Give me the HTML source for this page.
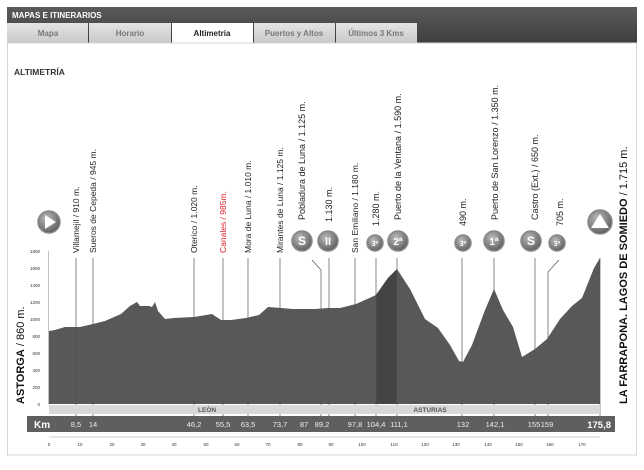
<!DOCTYPE html>
<html><head><meta charset="utf-8"><style>
body{margin:0;background:#fff;width:644px;height:465px;overflow:hidden;font-family:"Liberation Sans",sans-serif}
</style></head><body>
<svg width="644" height="465" xmlns="http://www.w3.org/2000/svg" font-family="Liberation Sans, sans-serif">
<defs>
<linearGradient id="tab" x1="0" y1="0" x2="0" y2="1"><stop offset="0" stop-color="#e4e4e4"/><stop offset="1" stop-color="#c9c9c9"/></linearGradient>
<linearGradient id="hd" x1="0" y1="0" x2="0" y2="1"><stop offset="0" stop-color="#5a5a5a"/><stop offset="1" stop-color="#3e3e3e"/></linearGradient>
<radialGradient id="ic" cx="0.4" cy="0.35" r="0.7"><stop offset="0" stop-color="#bdbdbd"/><stop offset="0.7" stop-color="#777"/><stop offset="1" stop-color="#555"/></radialGradient>
</defs>
<rect x="7" y="7" width="630" height="36" fill="url(#hd)"/>
<text x="12" y="18" font-size="8" font-weight="bold" fill="#fff">MAPAS E ITINERARIOS</text>
<rect x="7" y="23" width="81" height="20" fill="url(#tab)"/>
<rect x="89" y="23" width="82" height="20" fill="url(#tab)"/>
<rect x="172" y="23" width="81" height="20" fill="#fff"/>
<rect x="254" y="23" width="81" height="20" fill="url(#tab)"/>
<rect x="336" y="23" width="81" height="20" fill="url(#tab)"/>
<g font-size="8" text-anchor="middle" fill="#777" font-weight="bold">
<text x="48" y="36">Mapa</text><text x="130" y="36">Horario</text>
<text x="212" y="36" fill="#222">Altimetría</text>
<text x="294" y="36">Puertos y Altos</text><text x="376" y="36">Últimos 3 Kms</text></g>
<rect x="7.5" y="43" width="629" height="412" fill="none" stroke="#d6d6d6"/>
<text x="14" y="75" font-size="8.5" font-weight="bold" fill="#333">ALTIMETRÍA</text>

<g font-size="4.5" fill="#333" text-anchor="end">
<text x="40" y="406">0</text><text x="40" y="389">200</text><text x="40" y="372">400</text><text x="40" y="355">600</text><text x="40" y="338">800</text><text x="40" y="321">1000</text><text x="40" y="304">1200</text><text x="40" y="287">1400</text><text x="40" y="270">1600</text><text x="40" y="253">1800</text></g>
<line x1="48.5" y1="251" x2="48.5" y2="404" stroke="#999" stroke-width="0.6"/>

<path fill="#585858" d="M49,404 L49,331 L55,330 L65,327 L80,327 L93,324 L105,321 L121,314 L130,306 L137,302 L140,306 L149,306 L152,307 L155,302 L158,311 L165,319 L174,318 L194,317 L212,314 L221,320 L231,320 L246,318 L259,315 L268,307 L281,308 L293,309 L315,309 L328,308 L340,308 L356,304 L376,295 L388,278 L397,269 L410,289 L425,319 L438,328 L450,345 L459,361 L463,362 L472,345 L485,310 L494,289 L503,310 L513,327 L522,357 L535,349 L547,339 L560,319 L572,306 L582,298 L594,268 L600,258 L600,404 Z"/>
<path fill="#444" d="M376,295 L388,278 L397,269 L397,404 L376,404 Z"/>

<g stroke="#555" stroke-width="0.7">
<line x1="76" y1="258" x2="76" y2="432"/><line x1="93" y1="258" x2="93" y2="432"/>
<line x1="194" y1="258" x2="194" y2="432"/><line x1="223" y1="258" x2="223" y2="432"/>
<line x1="248" y1="258" x2="248" y2="432"/><line x1="280" y1="258" x2="280" y2="432"/>
<polyline points="312,260 321,270 321,432" fill="none"/><line x1="329" y1="258" x2="329" y2="432"/>
<line x1="355" y1="258" x2="355" y2="432"/><line x1="376" y1="258" x2="376" y2="432"/>
<line x1="397" y1="258" x2="397" y2="432"/><line x1="462" y1="258" x2="462" y2="432"/>
<line x1="494" y1="258" x2="494" y2="432"/><line x1="535" y1="258" x2="535" y2="432"/>
<polyline points="559,260 548,272 548,432" fill="none"/><line x1="600" y1="258" x2="600" y2="432"/>
</g>

<g font-size="8.5" fill="#222">
<text transform="translate(79,253) rotate(-90)">Villamejil / 910 m.</text>
<text transform="translate(96,253) rotate(-90)">Sueros de Cepeda / 945 m.</text>
<text transform="translate(197,253) rotate(-90)">Oterico / 1.020 m.</text>
<text transform="translate(226,253) rotate(-90)" fill="#e0202a">Canales / 985m.</text>
<text transform="translate(251,253) rotate(-90)">Mora de Luna / 1.010 m.</text>
<text transform="translate(283,253) rotate(-90)">Mirantes de Luna / 1.125 m.</text>
<text transform="translate(358,253) rotate(-90)">San Emiliano / 1.180 m.</text>
</g>
<g font-size="9" fill="#222">
<text transform="translate(305,220) rotate(-90)">Pobladura de Luna / 1.125 m.</text>
<text transform="translate(332,222) rotate(-90)">1.130 m.</text>
<text transform="translate(379,226) rotate(-90)">1.280 m.</text>
<text transform="translate(401,220) rotate(-90)">Puerto de la Ventana / 1.590 m.</text>
<text transform="translate(466,226) rotate(-90)">490 m.</text>
<text transform="translate(498,220) rotate(-90)">Puerto de San Lorenzo / 1.350 m.</text>
<text transform="translate(538,220) rotate(-90)">Castro (Ext.) / 650 m.</text>
<text transform="translate(563,226) rotate(-90)">705 m.</text>
</g>
<text transform="translate(24,404) rotate(-90)" font-size="11" fill="#111"><tspan font-weight="bold">ASTORGA</tspan> / 860 m.</text>
<text transform="translate(627,404) rotate(-90)" font-size="11" fill="#111"><tspan font-weight="bold">LA FARRAPONA. LAGOS DE SOMIEDO</tspan> / 1.715 m.</text>

<g stroke="#888" stroke-width="1.5" fill="url(#ic)">
<circle cx="49" cy="222" r="11"/><circle cx="302" cy="241" r="10"/><circle cx="328" cy="241" r="10"/>
<circle cx="375" cy="243" r="8"/><circle cx="398" cy="241" r="10"/><circle cx="463" cy="243" r="8"/>
<circle cx="494" cy="241" r="10"/><circle cx="531" cy="241" r="10"/><circle cx="557" cy="243" r="8"/>
<circle cx="600" cy="222" r="12"/></g>
<polygon points="45,215 45,229 56,222" fill="#fff"/>
<g fill="#fff" font-weight="bold" text-anchor="middle">
<text x="302" y="245" font-size="12">S</text><text x="328" y="245" font-size="11">II</text>
<text x="375" y="246" font-size="7">3ª</text><text x="398" y="245" font-size="10">2ª</text>
<text x="463" y="246" font-size="7">3ª</text><text x="494" y="245" font-size="10">1ª</text>
<text x="531" y="245" font-size="12">S</text><text x="557" y="246" font-size="7">3ª</text></g>
<polygon points="591,228 600,214 609,228" fill="#fff"/>

<rect x="49" y="405" width="551" height="9" fill="#d9d9d9"/>
<g font-size="6.5" font-weight="bold" fill="#555" text-anchor="middle"><text x="207" y="412">LEÓN</text><text x="430" y="412">ASTURIAS</text></g>
<rect x="27" y="416" width="588" height="16" fill="#5f5f5f"/>
<text x="34" y="428" font-size="10" font-weight="bold" fill="#fff">Km</text>
<g font-size="7.5" fill="#eee" text-anchor="middle">
<text x="76" y="427">8,5</text><text x="93" y="427">14</text><text x="194" y="427">46,2</text><text x="223" y="427">55,5</text><text x="248" y="427">63,5</text><text x="280" y="427">73,7</text><text x="304" y="427">87</text><text x="322" y="427">89,2</text><text x="355" y="427">97,8</text><text x="376" y="427">104,4</text><text x="399" y="427">111,1</text><text x="463" y="427">132</text><text x="495" y="427">142,1</text><text x="534" y="427">155</text><text x="547" y="427">159</text></g>
<text x="611" y="428" font-size="9.5" font-weight="bold" fill="#fff" text-anchor="end">175,8</text>
<line x1="49" y1="437" x2="600" y2="437" stroke="#999" stroke-width="0.5"/>
<g font-size="4.5" fill="#333" text-anchor="middle">
<text x="49" y="446">0</text><text x="80" y="446">10</text><text x="112" y="446">20</text><text x="143" y="446">30</text><text x="174" y="446">40</text><text x="206" y="446">50</text><text x="237" y="446">60</text><text x="268" y="446">70</text><text x="300" y="446">80</text><text x="331" y="446">90</text><text x="362" y="446">100</text><text x="394" y="446">110</text><text x="425" y="446">120</text><text x="456" y="446">130</text><text x="488" y="446">140</text><text x="519" y="446">150</text><text x="550" y="446">160</text><text x="582" y="446">170</text></g>
</svg>
</body></html>
